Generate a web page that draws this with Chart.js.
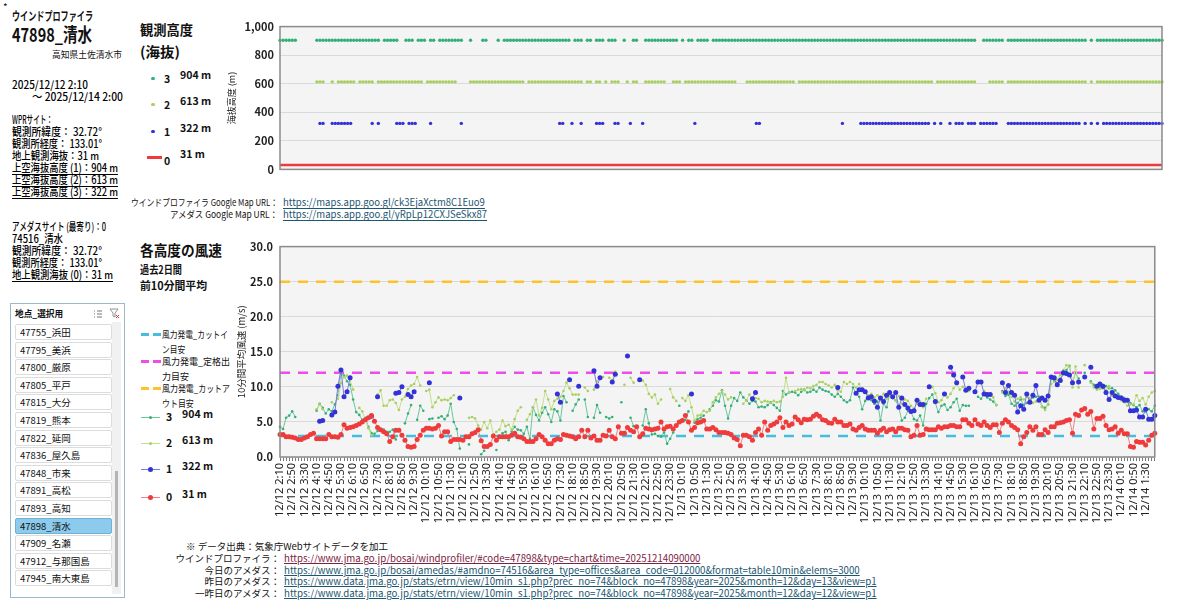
<!DOCTYPE html>
<html lang="ja">
<head>
<meta charset="utf-8">
<script src="https://cdn.jsdelivr.net/npm/chart.js@4.4.1/dist/chart.umd.min.js"></script>
<style>
  html, body { margin: 0; padding: 0; background: #fff; }
  body { width: 1200px; height: 612px; position: relative; overflow: hidden;
         font-family: 'Noto Sans CJK JP', 'Noto Sans', sans-serif; color: #111; }
  .t { position: absolute; white-space: nowrap; line-height: 1.2; transform-origin: 0 50%; }
  .b { font-weight: bold; }
  .u { text-decoration: underline; text-underline-offset: 2px; }
  .lnk { color: #1d5670; text-decoration: underline; text-underline-offset: 2px; }
  .p { font-size: 11px; font-weight: 500; color: #000; }
  #sidebar { position: absolute; left: 10px; top: 303px; width: 113px; height: 293px;
             border: 1px solid #9bb9c9; background: #fff; }
  .item { position: absolute; left: 4px; width: 91px; height: 14px; border: 1px solid #dcdcdc;
          border-radius: 2px; font-size: 9.5px; line-height: 14px; padding-left: 4px; box-sizing: content-box; }
  .item.sel { background: #8ccbec; border-color: #6fb0d6; }
  canvas { position: absolute; }
</style>
</head>
<body>
<div class="t" style="left:3px;top:1px;font-size:10px">*</div>
<div class="t b" data-w="81" style="left:12px;top:9px;font-size:12px">ウインドプロファイラ</div>
<div class="t b" data-w="80" style="left:12px;top:23px;font-size:19px">47898_清水</div>
<div class="t" data-w="70" style="left:52px;top:49px;font-size:9.5px">高知県土佐清水市</div>

<div class="t p" data-w="76" style="left:12px;top:78px">2025/12/12 2:10</div>
<div class="t p" data-w="91" style="left:32px;top:90px">～ 2025/12/14 2:00</div>

<div class="t p" data-w="41" style="left:12px;top:113px">WPRサイト：</div>
<div class="t p" data-w="90" style="left:12px;top:125px">観測所緯度： 32.72°</div>
<div class="t p" data-w="90" style="left:12px;top:137px">観測所経度： 133.01°</div>
<div class="t p" data-w="87" style="left:12px;top:149px">地上観測海抜：31 m</div>
<div class="t p u" data-w="106" style="left:12px;top:161px">上空海抜高度 (1)：904 m</div>
<div class="t p u" data-w="106" style="left:12px;top:173px">上空海抜高度 (2)：613 m</div>
<div class="t p u" data-w="106" style="left:12px;top:185px">上空海抜高度 (3)：322 m</div>

<div class="t p" data-w="94" style="left:12px;top:220px">アメダスサイト (最寄り)：0</div>
<div class="t p" data-w="51" style="left:12px;top:232px">74516_清水</div>
<div class="t p" data-w="90" style="left:12px;top:244px">観測所緯度： 32.72°</div>
<div class="t p" data-w="90" style="left:12px;top:256px">観測所経度： 133.01°</div>
<div class="t p u" data-w="101" style="left:12px;top:268px">地上観測海抜 (0)：31 m</div>

<div id="sidebar">
  <div class="t b" data-w="48" style="left:4px;top:4px;font-size:9.5px">地点_選択用</div>
  <svg style="position:absolute;left:82px;top:5px" width="10" height="10" viewBox="0 0 10 10">
    <path d="M1 2h1M1 5h1M1 8h1M4 2h5M4 5h5M4 8h5" stroke="#777" stroke-width="1" fill="none"/>
  </svg>
  <svg style="position:absolute;left:98px;top:4px" width="11" height="11" viewBox="0 0 11 11">
    <path d="M1 1h8l-3 4v4l-2-1v-3z" stroke="#888" stroke-width="0.9" fill="none"/>
    <path d="M7 7l3 3M10 7l-3 3" stroke="#d33" stroke-width="1"/>
  </svg>
  <div style="position:absolute;left:101px;top:18px;width:9px;height:272px;background:#f1f1f1"></div>
  <div style="position:absolute;left:104px;top:167px;width:3px;height:116px;background:#b4b4b4"></div>
  <div id="items"></div>
</div>

<div class="t b" data-w="53" style="left:140px;top:21px;font-size:14px">観測高度</div>
<div class="t b" data-w="40" style="left:140px;top:43px;font-size:14px">(海抜)</div>
<div id="legendTop"></div>

<div class="t" data-w="147" style="left:131px;top:197px;font-size:9.5px">ウインドプロファイラ Google Map URL：</div>
<div class="t lnk" data-w="202" style="left:283px;top:196px;font-size:10px">https://maps.app.goo.gl/ck3EjaXctm8C1Euo9</div>
<div class="t" data-w="108" style="left:170px;top:209px;font-size:9.5px">アメダス Google Map URL：</div>
<div class="t lnk" data-w="204" style="left:283px;top:208px;font-size:10px">https://maps.app.goo.gl/yRpLp12CXJSeSkx87</div>

<div class="t b" data-w="82" style="left:140px;top:241px;font-size:14.5px">各高度の風速</div>
<div class="t b" data-w="42" style="left:140px;top:263px;font-size:11px">過去2日間</div>
<div class="t b" data-w="67" style="left:140px;top:279px;font-size:11px">前10分間平均</div>
<div id="legendBottom"></div>

<div class="t" style="left:186px;top:541px;font-size:9.5px">※ データ出典：気象庁Webサイトデータを加工</div>
<div id="sources"></div>

<canvas id="altChart" width="944" height="168" style="left:226px;top:14px"></canvas>
<canvas id="windChart" width="934" height="312" style="left:236px;top:233px"></canvas>

<script>
const _ = null;

// 観測高度 (海抜 m) : 0=地上アメダス, 1..3=ウインドプロファイラ
const heightNames = ['0', '1', '2', '3'];
const heightValues = [31, 322, 613, 904];
const seriesColors = ['#ef3b3b', '#3232d6', '#a8d05e', '#33b07a'];
const lineColors = ['#f28080', '#7a7ae0', '#c4df8e', '#6cc69a'];

// 風力発電の目安 (m/s)
const refNames = ['風力発電_カットイン目安', '風力発電_定格出力目安', '風力発電_カットアウト目安'];
const refValues = [3, 12, 25];
const refColors = ['#45bde0', '#ec4ee8', '#ffc22a'];

// 10分間平均風速 (m/s), 2025/12/12 2:10 から 10分毎 288点 (1行 = 2時間)
const wind0 = [
  3.2, 3.2, 2.9, 2.9, 2.8, 2.7, 2.5, 2.5, 2.7, 2.9, 3.2, 3.4,
  2.6, 2.6, 2.6, 2.6, 3.2, 2.9, 2.9, 2.8, 3.2, 4.6, 4.1, 4.2,
  4.3, 4.5, 4.7, 5.0, 5.3, 5.6, 5.9, 5.1, 4.2, 3.9, 3.6, 3.3,
  2.2, 2.9, 3.8, 3.8, 3.1, 2.4, 1.5, 1.4, 1.5, 2.5, 3.1, 3.8,
  4.1, 4.1, 4.0, 4.1, 4.5, 3.0, 3.6, 3.6, 2.2, 2.5, 2.5, 2.5,
  2.4, 2.9, 2.9, 3.3, 3.5, 3.9, 2.3, 1.5, 1.5, 1.8, 3.0, 2.4,
  2.9, 2.9, 2.9, 2.9, 3.1, 3.4, 2.9, 2.8, 2.6, 2.2, 2.2, 2.2,
  2.6, 3.2, 2.9, 2.4, 1.9, 1.9, 2.4, 2.6, 2.5, 3.2, 3.1, 3.0,
  2.9, 2.6, 2.9, 3.8, 2.9, 3.8, 2.7, 3.0, 2.4, 2.4, 3.1, 3.0,
  3.8, 2.9, 2.6, 4.3, 3.4, 3.4, 4.2, 3.8, 3.6, 4.3, 2.9, 3.3,
  4.1, 4.0, 3.9, 4.0, 4.1, 5.0, 4.0, 4.3, 4.4, 4.0, 4.5, 5.0,
  5.2, 5.9, 5.0, 3.8, 4.2, 4.9, 5.0, 5.2, 4.0, 4.0, 4.2, 3.9,
  3.5, 3.5, 3.5, 3.4, 3.2, 2.7, 2.5, 1.6, 3.1, 3.1, 2.9, 2.4,
  3.5, 4.0, 3.1, 5.0, 3.8, 4.5, 4.7, 5.0, 5.6, 4.2, 5.0, 4.5,
  4.7, 5.7, 5.3, 4.9, 5.4, 5.3, 5.4, 5.8, 6.1, 5.8, 5.3, 5.2,
  4.9, 4.8, 5.4, 5.0, 5.0, 4.5, 4.5, 4.7, 4.0, 3.8, 4.2, 4.5,
  4.0, 3.8, 3.8, 3.8, 3.4, 3.8, 4.1, 3.6, 3.9, 4.0, 3.6, 4.1,
  4.1, 3.9, 3.8, 2.9, 3.1, 4.5, 3.1, 3.2, 4.0, 3.9, 3.9, 3.9,
  4.3, 4.1, 4.3, 4.3, 4.5, 4.5, 4.3, 4.3, 5.3, 5.3, 4.8, 4.5,
  5.3, 4.7, 4.5, 5.0, 4.5, 4.2, 4.6, 4.6, 3.5, 4.8, 5.3, 5.0,
  4.5, 4.2, 3.9, 1.9, 2.9, 3.5, 4.3, 3.8, 4.3, 3.2, 3.2, 3.9,
  3.5, 4.3, 4.3, 4.8, 4.9, 5.0, 5.2, 5.3, 3.4, 6.1, 5.9, 6.7,
  6.9, 6.1, 6.5, 4.0, 5.5, 5.5, 5.8, 4.5, 3.9, 4.0, 4.3, 3.4,
  3.8, 3.3, 3.3, 1.5, 1.4, 2.2, 2.1, 2.1, 1.7, 2.4, 3.1, 3.4
];
const wind1 = [
  _, _, _, _, _, _, _, _, _, _, _, _,
  _, 5.1, 5.2, _, _, 6.0, 6.4, 10.1, 12.4, 8.6, 9.3, 11.3,
  _, _, _, _, _, _, 5.8, _, 8.6, _, _, _,
  _, _, 9.1, 9.2, 10.0, _, 8.9, 8.6, 9.3, _, _, _,
  _, 10.6, _, _, _, _, _, _, _, _, _, 8.4,
  _, _, _, _, _, _, _, _, _, _, _, _,
  _, _, _, _, _, _, _, _, _, _, _, _,
  _, _, _, _, _, _, _, 9.0, 7.8, _, _, 11.0,
  _, _, 10.1, _, _, _, _, 12.3, 10.1, 11.3, _, _,
  _, 10.7, 11.8, _, _, _, 14.4, _, _, _, 11.0, _,
  _, _, _, _, _, _, _, _, _, _, _, _,
  _, _, _, 9.0, _, _, _, _, _, _, _, _,
  _, _, _, _, _, _, _, _, _, _, _, 8.3,
  9.2, _, _, _, _, _, _, _, _, _, _, _,
  _, _, _, _, _, _, _, _, _, _, _, _,
  _, _, _, 9.9, _, _, _, _, _, 9.1, 9.6, 9.6,
  9.3, 8.4, 8.6, 8.0, 7.1, 8.4, 7.9, 8.8, 9.2, 8.6, 9.2, 7.1,
  8.4, 7.5, 7.0, 6.5, 6.6, 8.1, 7.5, 7.5, _, 10.0, _, 7.9,
  _, _, 9.0, _, 12.8, 11.7, 10.6, _, 11.4, 9.5, 9.8, _,
  9.3, 10.7, 10.7, 9.0, 8.9, 8.9, _, _, _, 10.6, 9.2, 10.2,
  9.2, 8.8, 6.4, 7.3, 6.8, 9.0, 7.8, 8.8, 10.2, 8.1, 8.4, 8.1,
  8.7, 11.4, 11.3, 10.3, 10.9, 12.0, 11.9, 11.7, 10.6, _, 10.7, _,
  11.4, _, 12.8, _, 10.1, 10.4, 10.1, 9.2, 8.2, 9.2, 8.7, 8.5,
  8.4, 8.1, 8.1, 6.6, 6.6, 6.7, 5.7, 5.7, 6.8, 5.4, 5.4, 5.9
];
const wind2 = [
  _, _, _, _, _, _, _, _, _, _, _, _,
  6.8, 7.5, 6.8, _, _, 7.8, _, 8.3, 10.5, 11.4, 11.6, 11.0,
  9.6, _, 7.0, 6.5, 5.3, 4.1, 3.1, _, 8.9, 9.5, 7.3, 7.3,
  8.1, 8.2, 7.7, 6.7, 8.2, 8.6, 9.7, 10.2, 10.4, 11.4, 10.2, _,
  9.4, 9.6, 7.1, 7.8, 8.5, 8.1, 8.2, 8.1, 8.4, 8.8, _, _,
  _, _, 5.6, 5.7, 5.5, 4.5, 3.9, 5.0, 4.1, 5.2, 3.2, 3.6,
  3.9, 5.2, 4.4, 4.6, 3.9, 5.4, 6.6, 7.1, _, 5.3, 6.1, 7.0,
  8.2, 5.9, 7.0, 9.4, 8.2, 6.8, 8.0, 8.3, 8.6, 9.4, 10.6, 9.8,
  8.9, 8.9, 8.9, _, 9.9, 9.4, _, 9.6, 10.8, _, 11.4, _,
  11.3, 10.9, 12.2, _, _, 10.3, _, 11.3, 10.6, _, _, 10.9,
  10.3, 9.0, 8.5, 8.9, 7.6, 8.2, _, _, 9.7, 8.5, 8.0, _,
  8.4, 8.0, 8.8, 7.1, 5.2, 5.9, 6.0, 6.6, 6.4, 6.6, 7.8, 8.5,
  9.0, 9.4, 8.9, 8.2, 8.5, _, _, _, 7.6, 8.1, 8.9, 8.2,
  8.4, 8.3, 7.8, 8.0, 7.9, 7.7, 8.0, 7.8, 7.9, 8.6, 11.3, 9.2,
  _, 9.4, 9.6, 9.7, 9.5, 9.9, 9.8, 10.1, 10.3, 10.7, 10.7, 10.4,
  10.2, 9.9, 10.3, 9.5, 9.3, 10.7, 10.4, 10.7, 10.4, 9.9, 10.4, 9.6,
  9.3, 8.8, 9.0, 8.5, 8.8, 8.1, 9.0, 8.3, 8.8, 8.5, 8.1, 8.7,
  7.6, 8.2, 8.0, 7.3, 6.9, 7.6, 7.9, 7.1, 8.3, _, 10.0, 9.1,
  7.8, 8.1, 8.9, 8.5, 9.0, 9.8, 10.4, 9.6, 10.0, 9.7, 9.4, _,
  _, _, _, 9.4, 9.1, 9.0, 8.5, 7.4, _, 9.2, 9.8, 9.3,
  8.6, 7.9, 8.3, 8.5, 8.2, 8.6, 8.4, 7.7, 7.9, 8.2, 7.1, 6.7,
  7.5, 10.4, 10.7, 11.0, 11.7, 12.4, 13.1, 12.9, 9.9, 12.9, 9.9, _,
  13.1, _, 10.6, 9.9, 9.6, 9.7, 10.3, 9.5, 10.1, 8.7, 8.9, 8.5,
  8.1, 7.8, 7.3, 7.5, 7.5, 8.8, 8.0, 8.4, 7.5, 8.6, 9.2, 9.4
];
const wind3 = [
  4.3, 4.0, 5.6, 5.9, 6.5, 5.7, _, _, _, _, _, _,
  6.6, 7.6, 7.0, 6.2, 6.8, 6.5, 7.5, 8.8, 11.9, 11.6, 10.8, 10.3,
  8.2, 6.4, 6.0, 5.3, 5.6, 4.3, 3.4, 3.3, 3.7, _, 3.9, 3.6,
  3.6, 3.9, 2.5, _, _, 4.8, 6.2, 7.4, _, 5.3, 7.3, 6.6,
  _, 5.4, 5.5, _, 5.6, 5.8, 5.4, 5.9, 7.6, 5.0, 4.0, 1.2,
  _, _, 1.8, _, _, _, 0.4, 0.9, _, _, _, 1.0,
  _, 3.4, 3.6, 2.4, 3.6, 4.3, 3.9, 3.8, 3.3, 4.3, 2.6, 7.1,
  6.0, 5.2, 6.3, 7.1, 6.1, 5.0, 6.8, 6.5, 5.2, 8.7, 7.8, _,
  6.6, 7.5, 8.2, _, 8.2, 5.7, _, 5.6, 7.4, 6.3, _, 5.7,
  5.5, 5.7, _, _, 7.8, _, _, 5.6, 4.4, _, _, 4.5,
  6.8, 4.8, 3.2, 3.3, 3.0, 2.9, 3.5, 1.9, 2.6, 3.5, _, 7.3,
  _, 5.3, 6.5, _, 4.9, 5.4, 5.6, 5.9, _, 6.8, 7.3, 8.1,
  7.9, 9.5, 7.3, 5.5, 7.3, 8.4, 8.0, 9.2, 8.5, 8.1, 7.6, 8.0,
  7.9, 7.1, 7.2, 7.1, 7.4, 7.8, 7.4, 7.0, 6.6, 9.4, 8.9, 9.2,
  9.3, 9.2, 8.8, 9.3, 9.6, 9.2, 9.3, 9.6, 9.3, 9.9, 9.6, 9.4,
  9.3, 8.9, 8.6, 9.0, 8.6, 8.1, 7.8, 8.1, 9.9, 9.0, 8.6, 6.8,
  8.0, 8.6, 8.1, 7.6, 7.9, 5.2, 7.6, 7.1, 8.9, 8.4, 8.1, 7.1,
  5.2, 5.6, 6.6, 6.4, 5.4, 5.2, 5.9, 4.5, 7.6, 8.4, 8.9, 7.7,
  6.4, 7.3, 7.5, 6.7, 7.1, 7.8, 8.3, 6.6, 7.4, 7.3, 7.3, _,
  _, 8.6, 8.3, 9.0, 8.5, 8.2, 7.9, 7.4, _, 9.4, 8.7, 8.9,
  7.6, 7.3, 7.7, 8.2, 7.4, 7.7, 8.2, 8.5, 8.6, 8.6, 7.2, 7.0,
  7.5, 11.2, 10.8, 10.5, 11.2, 11.8, 12.4, 13.0, 10.6, 12.0, 11.2, _,
  12.0, _, 10.8, 10.3, 10.1, 10.0, 9.8, 10.1, 9.8, 9.8, 9.5, 9.0,
  8.6, 8.4, 8.1, 7.7, 7.4, 7.1, 7.4, 6.5, 6.5, 6.8, 6.5, 7.3
];
const windSeries = [wind0, wind1, wind2, wind3];

// 横軸: 10分毎の時刻ラベル
const startTime = new Date(2025, 11, 12, 2, 10);
const timeLabels = [];
for (let i = 0; i < wind0.length; i++) {
    const d = new Date(startTime.getTime() + i * 10 * 60 * 1000);
    timeLabels.push(`${d.getMonth() + 1}/${d.getDate()} ${d.getHours()}:${String(d.getMinutes()).padStart(2, '0')}`);
}
const labelEvery = 4;

const stations = ['47755_浜田', '47795_美浜', '47800_厳原', '47805_平戸', '47815_大分', '47819_熊本',
    '47822_延岡', '47836_屋久島', '47848_市来', '47891_高松', '47893_高知', '47898_清水',
    '47909_名瀬', '47912_与那国島', '47945_南大東島'];
const selectedStation = '47898_清水';

const sourceRows = [
    ['ウインドプロファイラ：', 'https://www.jma.go.jp/bosai/windprofiler/#code=47898&type=chart&time=20251214090000', '#7b2343'],
    ['今日のアメダス：', 'https://www.jma.go.jp/bosai/amedas/#amdno=74516&area_type=offices&area_code=012000&format=table10min&elems=3000', '#1d5670'],
    ['昨日のアメダス：', 'https://www.data.jma.go.jp/stats/etrn/view/10min_s1.php?prec_no=74&block_no=47898&year=2025&month=12&day=13&view=p1', '#1d5670'],
    ['一昨日のアメダス：', 'https://www.data.jma.go.jp/stats/etrn/view/10min_s1.php?prec_no=74&block_no=47898&year=2025&month=12&day=12&view=p1', '#1d5670']
];

// ---- side panel / legends ----
const itemsBox = document.getElementById('items');
stations.forEach((s, k) => {
    const el = document.createElement('div');
    el.className = 'item' + (s === selectedStation ? ' sel' : '');
    el.style.top = (20 + k * 17.6) + 'px';
    el.textContent = s;
    itemsBox.appendChild(el);
});

const legendTop = document.getElementById('legendTop');
const topRowsY = [78, 104, 131, 157];
[3, 2, 1, 0].forEach((k, r) => {
    const y = topRowsY[r];
    const sym = k === 0
        ? `<div style="position:absolute;left:147px;top:${y - 1}px;width:15px;height:2.5px;background:${seriesColors[0]}"></div>`
        : `<div style="position:absolute;left:151px;top:${y - 1.5}px;width:3.5px;height:3.5px;border-radius:50%;background:${seriesColors[k]}"></div>`;
    legendTop.innerHTML += sym +
        `<div class="t b" style="left:164px;top:${y - 5 + (k === 0 ? 3 : 0)}px;font-size:10.5px">${heightNames[k]}</div>` +
        `<div class="t b" style="left:180px;top:${y - 9}px;font-size:10.5px">${heightValues[k]} m</div>`;
});

const legendBottom = document.getElementById('legendBottom');
const refRowsY = [334, 361, 388];
refNames.forEach((name, k) => {
    const y = refRowsY[k];
    const cut = name.length - (k === 2 ? 4 : 3);
    legendBottom.innerHTML +=
        `<div style="position:absolute;left:141px;top:${y - 1}px;width:8px;height:2.5px;background:${refColors[k]}"></div>` +
        `<div style="position:absolute;left:153px;top:${y - 1}px;width:8px;height:2.5px;background:${refColors[k]}"></div>` +
        `<div class="t" data-w="${k === 0 ? 66 : 68}" style="left:162px;top:${y - 7}px;font-size:9.5px;line-height:14.5px;transform-origin:0 0">${name.slice(0, cut)}<br>${name.slice(cut)}</div>`;
});
const seriesRowsY = [417, 443, 469, 497];
[3, 2, 1, 0].forEach((k, r) => {
    const y = seriesRowsY[r];
    const d = k <= 1 ? 5 : 3;
    legendBottom.innerHTML +=
        `<div style="position:absolute;left:141px;top:${y - 0.5}px;width:19px;height:1px;background:${lineColors[k]}"></div>` +
        `<div style="position:absolute;left:${150.5 - d / 2}px;top:${y - d / 2}px;width:${d}px;height:${d}px;border-radius:50%;background:${seriesColors[k]}"></div>` +
        `<div class="t b" style="left:166px;top:${y - 6}px;font-size:10.5px">${heightNames[k]}</div>` +
        `<div class="t b" style="left:182px;top:${y - 9}px;font-size:10.5px">${heightValues[k]} m</div>`;
});

const sources = document.getElementById('sources');
sourceRows.forEach(([lab, url, col], k) => {
    const top = 553 + k * 11.7;
    sources.innerHTML +=
        `<div class="t" style="left:120px;top:${top}px;font-size:9.5px;width:160px;text-align:right">${lab}</div>` +
        `<div class="t" style="left:284px;top:${top}px;font-size:9.7px;color:${col};text-decoration:underline">${url.replace(/&/g, '&amp;')}</div>`;
});

// 文字幅を参照画像の幅に合わせる
function fitWidths() {
    document.querySelectorAll('[data-w]').forEach(el => {
        el.style.transform = 'none';
        const w = el.getBoundingClientRect().width;
        if (w > 0) el.style.transform = `scaleX(${(+el.dataset.w / w).toFixed(3)})`;
    });
}
fitWidths();
if (document.fonts && document.fonts.ready) document.fonts.ready.then(fitWidths);

// ---- charts ----
Chart.defaults.font.family = "'Noto Sans CJK JP', 'Noto Sans', sans-serif";
Chart.defaults.color = '#222';

const plotFrame = {
    id: 'plotFrame',
    beforeDraw(chart) {
        const { ctx, chartArea: a } = chart;
        ctx.save();
        ctx.fillStyle = '#f4f4f4';
        ctx.fillRect(a.left, a.top, a.right - a.left, a.bottom - a.top);
        ctx.restore();
    },
    afterDraw(chart) {
        const { ctx, chartArea: a } = chart;
        ctx.save();
        ctx.strokeStyle = '#8a8a8a';
        ctx.lineWidth = 1.5;
        ctx.strokeRect(a.left, a.top, a.right - a.left, a.bottom - a.top);
        ctx.restore();
    }
};

const tickFont = { size: 11, weight: 'bold' };

// 観測高度チャート
const altDatasets = [0, 1, 2, 3].map(k => {
    const data = windSeries[k].map(v => v === null ? null : heightValues[k]);
    if (k === 0) {
        return { label: heightNames[k], data, borderColor: seriesColors[0], borderWidth: 2.5, pointRadius: 0 };
    }
    return { label: heightNames[k], data, showLine: false, pointRadius: 1.7, pointBorderWidth: 0,
             pointBackgroundColor: seriesColors[k], borderColor: seriesColors[k] };
});

new Chart(document.getElementById('altChart'), {
    type: 'line',
    data: { labels: timeLabels, datasets: altDatasets },
    options: {
        responsive: false, animation: false, events: [],
        layout: { padding: { top: 11, right: 8, bottom: 10, left: 0 } },
        plugins: { legend: { display: false }, tooltip: { enabled: false } },
        scales: {
            x: { display: false },
            y: {
                min: 0, max: 1000,
                ticks: { stepSize: 200, font: tickFont, padding: 6, callback: v => v.toLocaleString('en-US') },
                grid: { color: '#dadada', drawTicks: false },
                border: { display: false },
                title: { display: true, text: '海抜高度 (m)', font: { size: 9 }, padding: { top: 0, bottom: 2 } },
                afterFit: s => { s.width = 54; }
            }
        }
    },
    plugins: [plotFrame]
});

// 各高度の風速チャート
const windDatasets = [];
[0, 1, 2, 3].forEach(k => {
    const big = k <= 1;
    windDatasets.push({
        label: heightNames[k], data: windSeries[k],
        borderColor: lineColors[k], borderWidth: 1,
        pointRadius: big ? 2.5 : 1.3, pointBorderWidth: 0,
        pointBackgroundColor: seriesColors[k], spanGaps: false
    });
});
refValues.forEach((v, k) => {
    windDatasets.push({
        label: refNames[k],
        data: [{ x: timeLabels[0], y: v }, { x: timeLabels[timeLabels.length - 1], y: v }],
        borderColor: refColors[k], borderWidth: 2.5, borderDash: [10, 8], pointRadius: 0
    });
});

new Chart(document.getElementById('windChart'), {
    type: 'line',
    data: { labels: timeLabels, datasets: windDatasets },
    options: {
        responsive: false, animation: false, events: [],
        layout: { padding: { top: 10, right: 8, bottom: 0, left: 0 } },
        plugins: { legend: { display: false }, tooltip: { enabled: false } },
        scales: {
            x: {
                ticks: {
                    autoSkip: false, minRotation: 90, maxRotation: 90, padding: 2,
                    font: { family: "'Noto Sans', sans-serif", size: 11 }, color: '#222',
                    callback: (v, i) => i % labelEvery === 0 ? timeLabels[i] : ''
                },
                grid: { drawOnChartArea: false, drawTicks: true, tickLength: 4, color: '#777' },
                border: { display: false },
                afterFit: s => { s.height = 88; }
            },
            y: {
                min: 0, max: 30,
                ticks: { stepSize: 5, font: tickFont, padding: 7, callback: v => v.toFixed(1) },
                grid: { color: '#dadada', drawTicks: false },
                border: { display: false },
                title: { display: true, text: '10分間平均風速 (m/s)', font: { size: 9.5 }, padding: { top: 0, bottom: 2 } },
                afterFit: s => { s.width = 44; }
            }
        }
    },
    plugins: [plotFrame]
});
</script>
</body>
</html>
